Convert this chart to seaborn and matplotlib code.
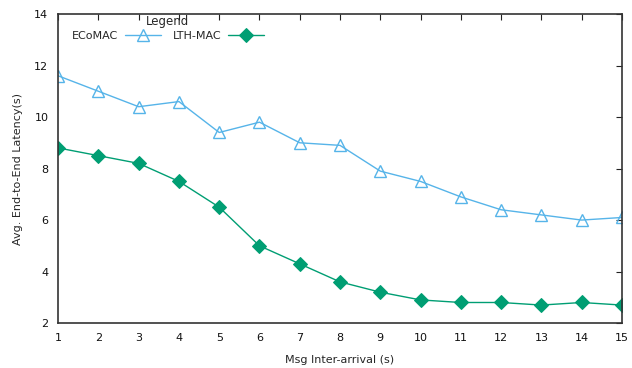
import matplotlib
matplotlib.use("Agg")
import matplotlib.pyplot as plt
import seaborn as sns
import pandas as pd

# Message inter-arrival time (s)
inter_arrival = [1, 2, 3, 4, 5, 6, 7, 8, 9, 10, 11, 12, 13, 14, 15]
# Average end-to-end latency (s) per protocol
ecomac = [11.6, 11.0, 10.4, 10.6, 9.4, 9.8, 9.0, 8.9, 7.9, 7.5, 6.9, 6.4, 6.2, 6.0, 6.1]
lth_mac = [8.8, 8.5, 8.2, 7.5, 6.5, 5.0, 4.3, 3.6, 3.2, 2.9, 2.8, 2.8, 2.7, 2.8, 2.7]
y_ticks = [2, 4, 6, 8, 10, 12, 14]

sns.set_theme(style="white")
plt.rcParams['font.family'] = ['DejaVu Sans']

fig = plt.figure(figsize=(6.32, 3.68), dpi=100)
ax = fig.add_axes([0.092, 0.122, 0.892, 0.840])

df_e = pd.DataFrame({"x": inter_arrival, "y": ecomac})
df_l = pd.DataFrame({"x": inter_arrival, "y": lth_mac})

sns.lineplot(data=df_e, x="x", y="y", ax=ax, color="#56b4e9", linewidth=1.0,
             marker="^", markersize=8, markerfacecolor="none",
             markeredgecolor="#56b4e9", markeredgewidth=1.0, label="ECoMAC")
sns.lineplot(data=df_l, x="x", y="y", ax=ax, color="#009e73", linewidth=1.0,
             marker="D", markersize=7, markerfacecolor="#009e73",
             markeredgecolor="#009e73", label="LTH-MAC")

ax.set_xlim(1, 15)
ax.set_ylim(2, 14)
ax.set_xticks(inter_arrival)
ax.set_yticks(y_ticks)
ax.tick_params(direction="in", length=4, width=0.8, top=True, right=True,
               labelsize=8, colors="#222222", pad=7)
ax.tick_params(axis="both", which="both", labelcolor="#111111")
for side in ax.spines.values():
    side.set_color("#333333")
    side.set_linewidth(1.2)

ax.set_xlabel("Msg Inter-arrival (s)", fontsize=8, labelpad=9)
ax.set_ylabel("Avg. End-to-End Latency(s)", fontsize=8, labelpad=8)

leg = ax.legend(title="Legend", loc="upper left", ncol=2, markerfirst=False,
                frameon=False, fontsize=8, title_fontsize=8.5,
                bbox_to_anchor=(0.013, 1.018), handlelength=3.2,
                columnspacing=1.1, handletextpad=0.6, borderaxespad=0.2)
leg._legend_box.align = "center"
leg._legend_box.sep = 2

fig.savefig("out.png", dpi=100)
